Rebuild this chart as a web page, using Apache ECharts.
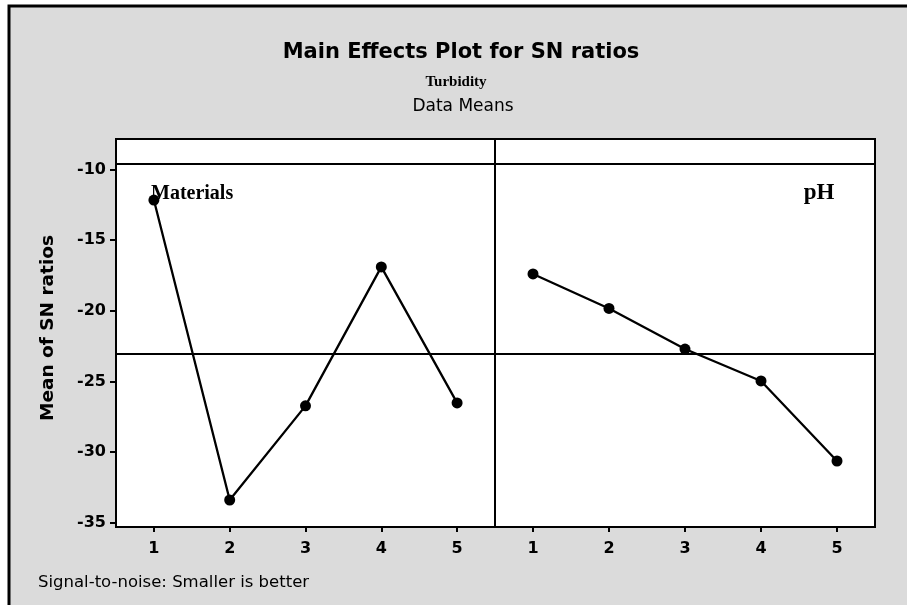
<!DOCTYPE html>
<html>
<head>
<meta charset="utf-8">
<script src="https://cdn.jsdelivr.net/npm/echarts@6/dist/echarts.min.js"></script>
<style>
html,body{margin:0;padding:0;background:#fff;}
#chart{width:907px;height:605px;}
</style>
</head>
<body>
<div id="chart"></div>
<script>
// ---- data ----
const levels = ['1', '2', '3', '4', '5'];
const materialsSN = [-12.17, -33.39, -26.73, -16.90, -26.52];
const phSN = [-17.40, -19.84, -22.71, -24.97, -30.63];
const overallMean = -23.05;
const yTickValues = [-35, -30, -25, -20, -15, -10];
const yMin = -35.3;
const yMax = -9.62;

const chart = echarts.init(document.getElementById('chart'));
const tickFont = { color: '#000', fontFamily: 'DejaVu Sans', fontWeight: 'bold', fontSize: 16 };

function xAxisFor(gridIndex) {
  return {
    type: 'category', gridIndex, data: levels, boundaryGap: true,
    axisLine: { show: true, lineStyle: { color: '#000', width: 2 } },
    axisTick: { show: true, alignWithLabel: true, length: 5, lineStyle: { color: '#000', width: 2 } },
    axisLabel: Object.assign({ margin: 14 }, tickFont),
    splitLine: { show: false }
  };
}
function yAxisFor(gridIndex, show) {
  return {
    type: 'value', gridIndex, min: yMin, max: yMax, show,
    axisLine: { show: true, lineStyle: { color: '#000', width: 2 } },
    axisTick: { show: true, length: 6, customValues: yTickValues, lineStyle: { color: '#000', width: 2 } },
    axisLabel: Object.assign({ margin: 10, customValues: yTickValues }, tickFont),
    splitLine: { show: false }
  };
}
function seriesFor(idx, data) {
  return {
    type: 'line', xAxisIndex: idx, yAxisIndex: idx, data,
    symbol: 'circle', symbolSize: 11, color: '#000',
    itemStyle: { color: '#000' },
    lineStyle: { color: '#000', width: 2.3 },
    animation: false, z: 5,
    markLine: {
      silent: true, symbol: 'none', label: { show: false },
      lineStyle: { color: '#000', width: 2, type: 'solid' },
      data: [{ yAxis: overallMean }], animation: false
    }
  };
}

chart.setOption({
  animation: false,
  backgroundColor: 'transparent',
  grid: [
    { left: 116, top: 164, width: 379, height: 363, show: true, backgroundColor: '#fff', borderColor: '#000', borderWidth: 2 },
    { left: 495, top: 164, width: 380, height: 363, show: true, backgroundColor: '#fff', borderColor: '#000', borderWidth: 2 }
  ],
  xAxis: [xAxisFor(0), xAxisFor(1)],
  yAxis: [yAxisFor(0, true), yAxisFor(1, false)],
  series: [seriesFor(0, materialsSN), seriesFor(1, phSN)],
  graphic: [
    { type: 'rect', z: -100, shape: { x: 9, y: 6, width: 940, height: 640 },
      style: { fill: '#dbdbdb', stroke: '#000', lineWidth: 3 } },
    { type: 'rect', z: 1, shape: { x: 116, y: 139, width: 759, height: 25 },
      style: { fill: '#fff', stroke: '#000', lineWidth: 2 } },
    { type: 'line', z: 1, shape: { x1: 495, y1: 139, x2: 495, y2: 164 },
      style: { stroke: '#000', lineWidth: 2 } },
    { type: 'text', x: 461, y: 53, z: 10,
      style: { text: 'Main Effects Plot for SN ratios', fill: '#000', font: 'bold 21px "DejaVu Sans"', textAlign: 'center', textVerticalAlign: 'middle' } },
    { type: 'text', x: 456, y: 82, z: 10,
      style: { text: 'Turbidity', fill: '#000', font: 'bold 15px "Liberation Serif"', textAlign: 'center', textVerticalAlign: 'middle' } },
    { type: 'text', x: 463, y: 107, z: 10,
      style: { text: 'Data Means', fill: '#000', font: '17px "DejaVu Sans"', textAlign: 'center', textVerticalAlign: 'middle' } },
    { type: 'text', x: 48, y: 328, rotation: Math.PI / 2, z: 10,
      style: { text: 'Mean of SN ratios', fill: '#000', font: 'bold 18.5px "DejaVu Sans"', textAlign: 'center', textVerticalAlign: 'middle' } },
    { type: 'text', x: 38, y: 583, z: 10,
      style: { text: 'Signal-to-noise: Smaller is better', fill: '#000', font: '16.5px "DejaVu Sans"', textAlign: 'left', textVerticalAlign: 'middle' } },
    { type: 'text', x: 151, y: 194, z: 20,
      style: { text: 'Materials', fill: '#000', font: 'bold 20px "Liberation Serif"', textAlign: 'left', textVerticalAlign: 'middle' } },
    { type: 'text', x: 819, y: 193, z: 20,
      style: { text: 'pH', fill: '#000', font: 'bold 23px "Liberation Serif"', textAlign: 'center', textVerticalAlign: 'middle' } }
  ]
});
</script>
</body>
</html>
